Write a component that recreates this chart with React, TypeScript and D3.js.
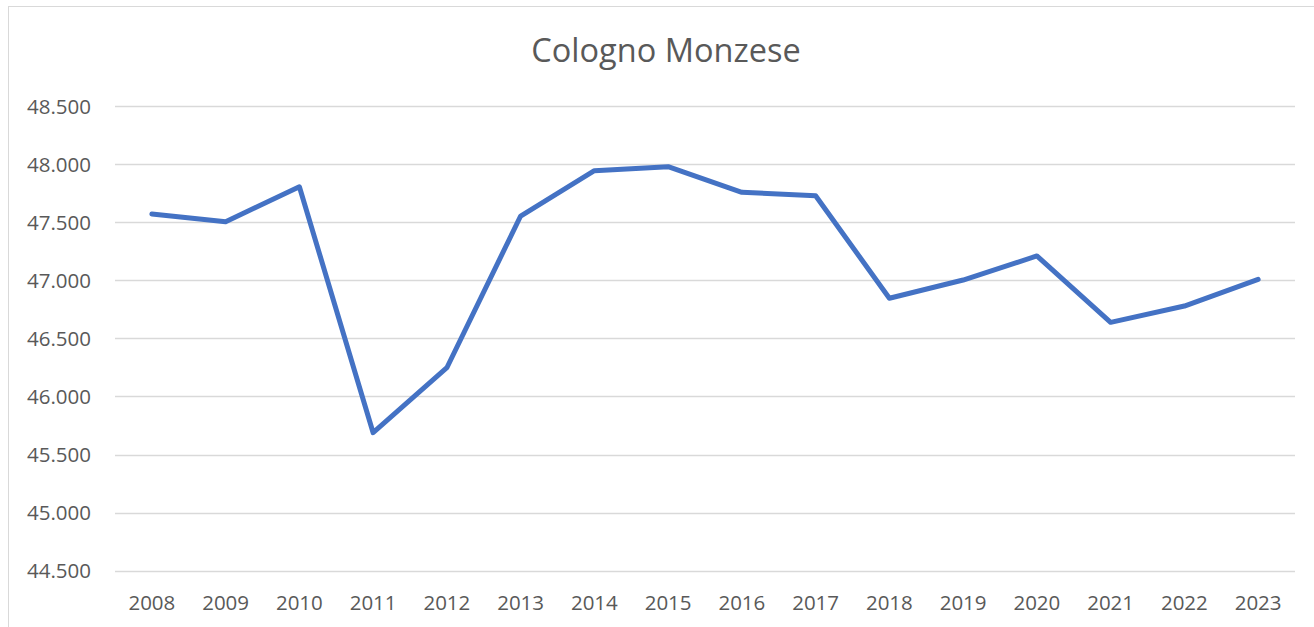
import React from "react";
import * as d3 from "d3";

const years = ["2008","2009","2010","2011","2012","2013","2014","2015","2016","2017","2018","2019","2020","2021","2022","2023"];
const values = [47570, 47504, 47805, 45688, 46247, 47553, 47943, 47978, 47757, 47728, 46845, 47002, 47209, 46638, 46778, 47008];
const yTicks = [44500, 45000, 45500, 46000, 46500, 47000, 47500, 48000, 48500];
const title = "Cologno Monzese";

const W = 1314, H = 627;
const left = 115, right = 1295, top = 106, bottom = 570.7;

const fmt = (v: number) => d3.format(".3f")(v / 1000);

export default function App() {
  const x = d3.scaleBand<string>().domain(years).range([left, right]);
  const y = d3.scaleLinear().domain([44500, 48500]).range([bottom, top]);
  const line = d3.line<number>()
    .x((_, i) => (x(years[i]) as number) + x.bandwidth() / 2)
    .y(d => y(d));
  const font = "'Open Sans', sans-serif";
  return (
    <svg width={W} height={H} style={{ position: "absolute", left: 0, top: 0, background: "#fff" }}>
      <rect x={8.5} y={6.5} width={1400} height={700} fill="#fff" stroke="#d9d9d9" strokeWidth={1} />
      <text x={666} y={62} textAnchor="middle" fontFamily={font} fontSize={32.5} fill="#595959">{title}</text>
      {yTicks.map(t => (
        <g key={t}>
          <line x1={left} x2={right} y1={Math.round(y(t)) + 0.5} y2={Math.round(y(t)) + 0.5} stroke="#d9d9d9" strokeWidth={1.3} />
          <text x={91} y={y(t) + 7.5} textAnchor="end" fontFamily={font} fontSize={20.5} fill="#595959">{fmt(t)}</text>
        </g>
      ))}
      {years.map(yr => (
        <text key={yr} x={(x(yr) as number) + x.bandwidth() / 2} y={610} textAnchor="middle" fontFamily={font} fontSize={20.5} fill="#595959">{yr}</text>
      ))}
      <path d={line(values) || ""} fill="none" stroke="#4472C4" strokeWidth={5} strokeLinejoin="round" strokeLinecap="round" />
    </svg>
  );
}
